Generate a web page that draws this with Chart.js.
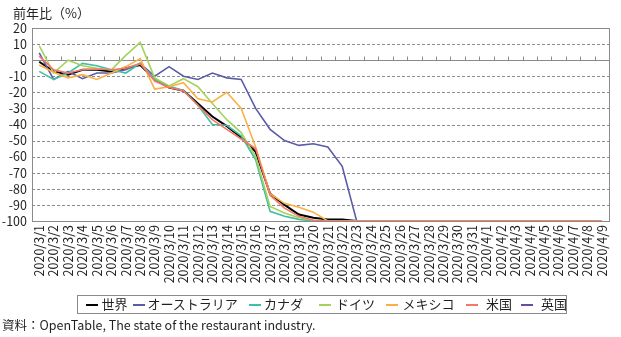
<!DOCTYPE html>
<html lang="ja">
<head>
<meta charset="utf-8">
<script src="https://cdn.jsdelivr.net/npm/chart.js@4.4.1/dist/chart.umd.min.js"></script>
<style>
  html, body { margin: 0; padding: 0; background: #fff; }
  #wrap { position: relative; width: 621px; height: 337px; font-family: "Noto Sans CJK JP", sans-serif; color: #231f20; }
  #chart { position: absolute; left: 0; top: 0; }
  .ytitle { position: absolute; left: 13px; top: 3px; font-size: 13px; }
  .legend { position: absolute; left: 77px; top: 295px; width: 488px; height: 17px; border: 1px solid #8a8a8a; }
  .legend .sw { position: absolute; top: 8px; width: 12px; height: 0; border-top: 2px solid; }
  .legend .tx { position: absolute; top: -1px; font-size: 13px; line-height: 18px; white-space: nowrap; }
  .note { position: absolute; left: 2px; top: 315px; font-size: 12.5px; white-space: nowrap; }
</style>
</head>
<body>
<div id="wrap">
  <canvas id="chart" width="621" height="337"></canvas>
  <div class="ytitle">前年比（%）</div>
  <div class="legend" id="legend"></div>
  <div class="note">資料：OpenTable, The state of the restaurant industry.</div>
</div>
<script>
// 日付（2020/3/1〜2020/4/9）
const labels = [
  '2020/3/1', '2020/3/2', '2020/3/3', '2020/3/4', '2020/3/5', '2020/3/6', '2020/3/7', '2020/3/8',
  '2020/3/9', '2020/3/10', '2020/3/11', '2020/3/12', '2020/3/13', '2020/3/14', '2020/3/15', '2020/3/16',
  '2020/3/17', '2020/3/18', '2020/3/19', '2020/3/20', '2020/3/21', '2020/3/22', '2020/3/23', '2020/3/24',
  '2020/3/25', '2020/3/26', '2020/3/27', '2020/3/28', '2020/3/29', '2020/3/30', '2020/3/31', '2020/4/1',
  '2020/4/2', '2020/4/3', '2020/4/4', '2020/4/5', '2020/4/6', '2020/4/7', '2020/4/8', '2020/4/9'
];

// 前年比（%）
const world = [
  -1, -7, -9, -6, -6, -7, -5, -3, -12, -17, -19, -27, -35, -41, -48, -57,
  -83, -90, -96, -98, -99, -99, -100, -100, -100, -100, -100, -100, -100, -100,
  -100, -100, -100, -100, -100, -100, -100, -100, -100, -100
];
const australia = [
  4.5, -12, -7, -11.5, -8, -8, -6, -2, -10, -4, -10, -12, -8, -11, -12, -30,
  -43, -50, -53, -52, -54, -66, -100, -100, -100, -100, -100, -100, -100, -100,
  -100, -100, -100, -100, -100, -100, -100, -100, -100, -100
];
const canada = [
  -7, -12, -8, -2, -3.5, -6, -8, -2, -12, -16, -19, -28, -40, -40.5, -47, -62,
  -94, -97, -99, -100, -100, -100, -100, -100, -100, -100, -100, -100, -100, -100,
  -100, -100, -100, -100, -100, -100, -100, -100, -100, -100
];
const germany = [
  9, -8, 0, -3.5, -5, -6, 3, 11, -11, -16, -11.5, -16.5, -27, -37, -45, -60,
  -91, -95, -98, -99.5, -100, -100, -100, -100, -100, -100, -100, -100, -100, -100,
  -100, -100, -100, -100, -100, -100, -100, -100, -100, -100
];
const mexico = [
  -3, -7.5, -11, -9, -12, -8, -4, 1, -18, -16.5, -14, -24, -26, -20, -30, -54,
  -83, -89, -91.5, -94.5, -100, -100, -100, -100, -100, -100, -100, -100, -100, -100,
  -100, -100, -100, -100, -100, -100, -100, -100, -100, -100
];
const usa = [
  2.5, -6, -8, -6, -5.5, -6, -5, -2, -13, -17, -19, -28, -37, -43, -49, -55,
  -84, -92, -97, -99.5, -100, -100, -100, -100, -100, -100, -100, -100, -100, -100,
  -100, -100, -100, -100, -100, -100, -100, -100, -100, -100
];
const uk = labels.map(() => null);

const yTicks = [20, 10, 0, -10, -20, -30, -40, -50, -60, -70, -80, -90, -100];

const seriesNames = ['世界', 'オーストラリア', 'カナダ', 'ドイツ', 'メキシコ', '米国', '英国'];
const seriesData = [world, australia, canada, germany, mexico, usa, uk];
const colors = ['#000000', '#5b5ca8', '#3fbfa6', '#a4d35c', '#fbb045', '#f47868', '#6a4c9c'];
const widths = [2, 1.6, 1.6, 1.6, 1.6, 1.6, 1.6];

// 凡例の配置（枠内の x 位置）
const legendPos = [[8, 23.5], [54.5, 69.5], [171, 186], [241, 258], [308, 324.5], [388, 408], [443, 463]];
const legend = document.getElementById('legend');
seriesNames.forEach((name, i) => {
  const sw = document.createElement('span');
  sw.className = 'sw';
  sw.style.left = legendPos[i][0] + 'px';
  sw.style.borderTopColor = colors[i];
  const tx = document.createElement('span');
  tx.className = 'tx';
  tx.style.left = legendPos[i][1] + 'px';
  tx.textContent = name;
  legend.appendChild(sw);
  legend.appendChild(tx);
});

// 枠・破線グリッド・0 の軸と目盛
const frame = {
  id: 'frame',
  beforeDatasetsDraw(chart) {
    const { ctx, chartArea: a, scales: { x, y } } = chart;
    ctx.save();
    ctx.lineWidth = 1;
    ctx.strokeStyle = '#8c8c8c';
    ctx.setLineDash([3, 2]);
    y.ticks.forEach(t => {
      if (t.value === 0 || t.value === y.max || t.value === y.min) return;
      const py = Math.round(y.getPixelForValue(t.value)) + 0.5;
      ctx.beginPath();
      ctx.moveTo(a.left, py);
      ctx.lineTo(a.right, py);
      ctx.stroke();
    });
    ctx.setLineDash([]);
    ctx.strokeStyle = '#8a8a8a';
    ctx.strokeRect(Math.round(a.left) + 0.5, Math.round(a.top) + 0.5,
      Math.round(a.right - a.left), Math.round(a.bottom - a.top));
    const y0 = Math.round(y.getPixelForValue(0)) + 0.5;
    ctx.beginPath();
    ctx.moveTo(a.left, y0);
    ctx.lineTo(a.right, y0);
    for (let i = 0; i < labels.length - 1; i++) {
      const px = Math.round((x.getPixelForValue(i) + x.getPixelForValue(i + 1)) / 2) + 0.5;
      ctx.moveTo(px, y0);
      ctx.lineTo(px, y0 - 4);
    }
    ctx.stroke();
    ctx.restore();
  }
};

const tickFont = { family: '"Noto Sans CJK JP", sans-serif', size: 12.5 };

new Chart(document.getElementById('chart').getContext('2d'), {
  type: 'line',
  data: {
    labels,
    datasets: seriesNames.map((name, i) => ({
      label: name,
      data: seriesData[i],
      borderColor: colors[i],
      backgroundColor: colors[i],
      borderWidth: widths[i],
      pointRadius: 0,
      tension: 0,
      // 後の系列を上に重ねる
      order: seriesNames.length - 1 - i
    }))
  },
  options: {
    responsive: false,
    animation: false,
    devicePixelRatio: 1,
    layout: { padding: { left: 0, right: 6, top: 28, bottom: 54 } },
    plugins: { legend: { display: false }, tooltip: { enabled: false } },
    scales: {
      x: {
        offset: true,
        grid: { display: false, drawTicks: false },
        border: { display: false },
        ticks: {
          autoSkip: false,
          minRotation: 90,
          maxRotation: 90,
          padding: 4,
          color: '#231f20',
          font: tickFont
        },
        afterFit: s => { s.height = 62; }
      },
      y: {
        min: -100,
        max: 20,
        grid: { display: false, drawTicks: false },
        border: { display: false },
        afterBuildTicks: s => { s.ticks = yTicks.map(v => ({ value: v })); },
        ticks: { autoSkip: false, padding: 5, color: '#231f20', font: tickFont },
        afterFit: s => { s.width = 32; }
      }
    }
  },
  plugins: [frame]
});
</script>
</body>
</html>
